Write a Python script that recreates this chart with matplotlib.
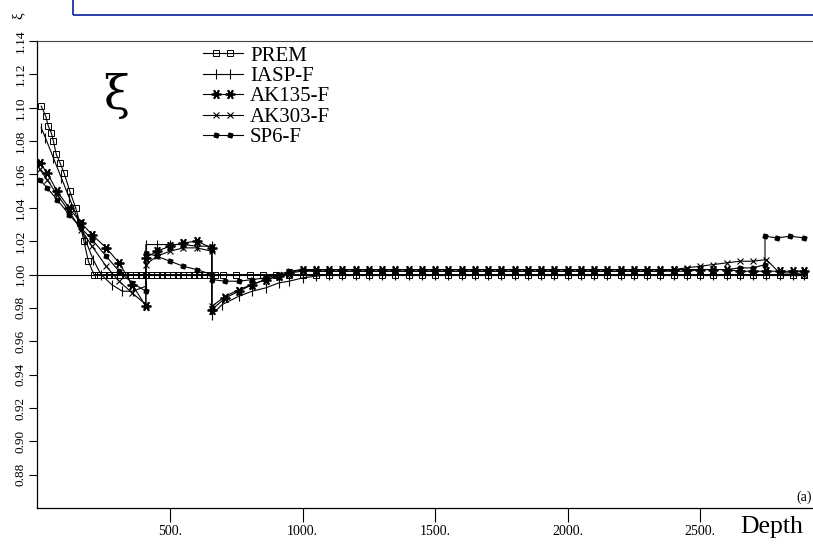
"""
Xi (anisotropy parameter) versus depth for several reference Earth models.
"""

import matplotlib
matplotlib.use("Agg")
import matplotlib.pyplot as plt
from matplotlib.lines import Line2D
from matplotlib.legend_handler import HandlerLine2D
from matplotlib.patches import Rectangle

plt.rcParams["font.family"] = ["Liberation Serif", "DejaVu Serif"]

# ---------------------------------------------------------------------------
# data (depth in km, xi)
# ---------------------------------------------------------------------------

PREM_DEPTH = [14, 31, 41, 52, 60, 71, 85, 100, 122, 144, 160, 175, 192, 213,
              230, 250, 270, 290, 310, 330, 350, 370, 390, 410, 430, 450, 470,
              490, 510, 530, 550, 570, 590, 610, 630, 650, 670, 700, 750, 800,
              850, 900, 950, 1000]
PREM_XI = [1.101, 1.095, 1.089, 1.085, 1.080, 1.072, 1.067, 1.061, 1.050,
           1.040, 1.031, 1.020, 1.008, 1.000,
           1.000, 1.000, 1.000, 1.000, 1.000, 1.000, 1.000, 1.000, 1.000,
           1.000, 1.000, 1.000, 1.000, 1.000, 1.000, 1.000, 1.000, 1.000,
           1.000, 1.000, 1.000, 1.000, 1.000, 1.000, 1.000, 1.000, 1.000,
           1.000, 1.000, 1.000]

IASP_DEPTH = [14, 30, 60, 90, 120, 150, 180, 210, 240, 280, 320, 360, 409,
              409, 450, 500, 550, 600, 658, 658, 697, 760, 810, 861, 911, 950,
              1000]
IASP_XI = [1.088, 1.082, 1.070, 1.058, 1.046, 1.034, 1.021, 1.009, 1.000,
           0.994, 0.990, 0.990, 0.993, 1.018, 1.018, 1.018, 1.018, 1.017,
           1.017, 0.976, 0.982, 0.987, 0.990, 0.992, 0.995, 0.996, 0.998]

AK_DEPTH = [9, 36, 74, 119, 164, 206, 259, 308, 357, 409, 409, 450, 500, 550,
            600, 658, 658, 709, 760, 810, 861, 911, 950, 1000]
AK135_XI = [1.067, 1.061, 1.050, 1.040, 1.031, 1.024, 1.016, 1.007, 0.994,
            0.981, 1.010, 1.014, 1.017, 1.019, 1.020, 1.016, 0.979, 0.986,
            0.990, 0.994, 0.997, 0.999, 1.001, 1.003]
AK303_XI = [1.063, 1.057, 1.048, 1.038, 1.027, 1.017, 1.005, 0.996, 0.989,
            0.982, 1.006, 1.011, 1.014, 1.016, 1.016, 1.014, 0.981, 0.987,
            0.991, 0.994, 0.997, 0.999, 1.001, 1.002]
SP6_XI = [1.057, 1.052, 1.045, 1.036, 1.028, 1.021, 1.011, 1.002, 0.995,
          0.990, 1.013, 1.011, 1.008, 1.005, 1.003, 1.000, 0.997, 0.996,
          0.996, 0.997, 0.998, 1.000, 1.002, 1.003]

# lower mantle, shared depth grid
DEPTH_DEEP = [1050, 1100, 1150, 1200, 1250, 1300, 1350, 1400, 1450, 1500,
              1550, 1600, 1650, 1700, 1750, 1800, 1850, 1900, 1950, 2000,
              2050, 2100, 2150, 2200, 2250, 2300, 2350, 2400, 2450, 2500,
              2550, 2600, 2650, 2700, 2750, 2800, 2850, 2891]
PREM_DEEP = [1.000, 1.000, 1.000, 1.000, 1.000, 1.000, 1.000, 1.000, 1.000,
             1.000, 1.000, 1.000, 1.000, 1.000, 1.000, 1.000, 1.000, 1.000,
             1.000, 1.000, 1.000, 1.000, 1.000, 1.000, 1.000, 1.000, 1.000,
             1.000, 1.000, 1.000, 1.000, 1.000, 1.000, 1.000, 1.000, 1.000,
             1.000, 1.000]
IASP_DEEP = [0.999, 1.000, 1.000, 1.000, 1.000, 1.000, 1.000, 1.000, 1.000,
             1.000, 1.000, 1.000, 1.000, 1.000, 1.000, 1.000, 1.000, 1.000,
             1.000, 1.000, 1.000, 1.000, 1.000, 1.000, 1.000, 1.000, 1.000,
             1.000, 1.000, 1.000, 1.000, 1.000, 1.000, 1.000, 1.000, 1.000,
             1.000, 1.000]
AK135_DEEP = [1.003, 1.003, 1.003, 1.003, 1.003, 1.003, 1.003, 1.003, 1.003,
              1.003, 1.003, 1.003, 1.003, 1.003, 1.003, 1.003, 1.003, 1.003,
              1.003, 1.003, 1.003, 1.003, 1.003, 1.003, 1.003, 1.003, 1.003,
              1.003, 1.003, 1.003, 1.003, 1.003, 1.002, 1.002, 1.002, 1.002,
              1.002, 1.002]
AK303_DEEP = [1.002, 1.002, 1.002, 1.002, 1.002, 1.002, 1.002, 1.002, 1.002,
              1.002, 1.002, 1.002, 1.002, 1.002, 1.002, 1.002, 1.002, 1.002,
              1.002, 1.002, 1.002, 1.002, 1.002, 1.002, 1.002, 1.002, 1.002,
              1.003, 1.004, 1.005, 1.006, 1.007, 1.008, 1.008, 1.009, 1.001,
              1.001, 1.000]
SP6_DEEP = [1.002, 1.002, 1.002, 1.002, 1.002, 1.002, 1.002, 1.002, 1.002,
            1.002, 1.002, 1.002, 1.002, 1.002, 1.002, 1.002, 1.002, 1.002,
            1.002, 1.002, 1.002, 1.002, 1.002, 1.002, 1.002, 1.002, 1.002,
            1.002, 1.002, 1.003, 1.003, 1.003, 1.004, 1.004]
SP6_TAIL_DEPTH = [2745, 2745, 2790, 2840, 2891]
SP6_TAIL_XI = [1.006, 1.023, 1.022, 1.023, 1.022]

MODEL_NAMES = ["PREM", "IASP-F", "AK135-F", "AK303-F", "SP6-F"]

Y_TICKS = [0.88, 0.90, 0.92, 0.94, 0.96, 0.98, 1.00, 1.02, 1.04, 1.06, 1.08,
           1.10, 1.12, 1.14]
X_TICKS = [500, 1000, 1500, 2000, 2500]
X_TICK_LABELS = ["500.", "1000.", "1500.", "2000.", "2500."]

W, H = 813, 548  # page size in pixels

# marker styles, one per model (same order as MODEL_NAMES)
STYLES = [
    dict(marker="s", ms=5, mfc="none", mec="black", mew=0.7),
    dict(marker="|", ms=7, mew=0.8),
    dict(marker=(6, 2, 90), ms=7, mew=1.3),
    dict(marker="x", ms=5, mew=0.8),
    dict(marker=(4, 0, 30), ms=4, mfc="black", mec="black"),
]


class MidMarkerHandler(HandlerLine2D):
    """Legend line with markers only on its two inner points."""

    def create_artists(self, *args, **kwargs):
        artists = super().create_artists(*args, **kwargs)
        for a in artists:
            a.set_markevery([1, 2])
        return artists


def fx(px):
    return px / W


def fy(py):
    return 1 - py / H


def main():
    fig = plt.figure(figsize=(W / 100, H / 100), dpi=100)
    # axes run past the right edge of the page, as in the scanned figure
    ax = fig.add_axes([0.0461, 0.073, 0.978, 0.852])
    ax.set_xlim(0, 3000)
    ax.set_ylim(0.86, 1.14)

    series = [
        (PREM_DEPTH + DEPTH_DEEP, PREM_XI + PREM_DEEP),
        (IASP_DEPTH + DEPTH_DEEP, IASP_XI + IASP_DEEP),
        (AK_DEPTH + DEPTH_DEEP, AK135_XI + AK135_DEEP),
        (AK_DEPTH + DEPTH_DEEP, AK303_XI + AK303_DEEP),
        (AK_DEPTH + DEPTH_DEEP[:len(SP6_DEEP)] + SP6_TAIL_DEPTH,
         SP6_XI + SP6_DEEP + SP6_TAIL_XI),
    ]
    handles = []
    for (depth, xi), name, st in zip(series, MODEL_NAMES, STYLES):
        h, = ax.plot(depth, xi, color="black", lw=0.8, label=name, **st)
        handles.append(h)

    ax.hlines(1.0, 0, 2891, color="black", lw=0.8)

    # axes decoration
    ax.spines["right"].set_visible(False)
    ax.spines["top"].set_color("#444444")
    ax.spines["top"].set_linewidth(0.8)
    ax.spines["left"].set_linewidth(0.9)
    ax.spines["bottom"].set_linewidth(0.9)

    ax.set_yticks(Y_TICKS)
    ax.set_yticklabels([f"{v:.2f}" for v in Y_TICKS], rotation=90,
                       va="center", fontsize=9.5)
    ax.set_xticks(X_TICKS)
    ax.set_xticklabels(X_TICK_LABELS, fontsize=10)
    ax.tick_params(axis="y", direction="out", length=5.5, width=0.8, pad=2.5)
    ax.tick_params(axis="x", direction="out", length=10, width=0.8, pad=2)

    ax.legend(handles=handles,
              loc="upper left", bbox_to_anchor=(fx(203), fy(46)),
              bbox_transform=fig.transFigure,
              frameon=False, fontsize=15, labelspacing=0.04,
              handlelength=1.92, handletextpad=0.33, borderpad=0,
              borderaxespad=0,
              handler_map={Line2D: MidMarkerHandler(marker_pad=0,
                                                    numpoints=4)})

    fig.text(fx(116), fy(96), "ξ", fontsize=34, ha="center", va="center",
             family="DejaVu Serif")
    fig.text(fx(18), fy(16), "ξ", rotation=90, fontsize=11,
             ha="center", va="center")
    fig.text(fx(804), fy(497), "(a)", fontsize=10, ha="center", va="center")
    fig.text(fx(772), fy(533), "Depth", fontsize=18.5, ha="center",
             va="baseline")

    # blue frame overlapping the top of the page
    fig.patches.append(Rectangle((fx(73), fy(15)), 1.0, 0.2,
                                 transform=fig.transFigure, fill=False,
                                 edgecolor="#1b2fa8", lw=1.3))

    fig.savefig("out.png", dpi=100)
    plt.close(fig)


if __name__ == "__main__":
    main()
